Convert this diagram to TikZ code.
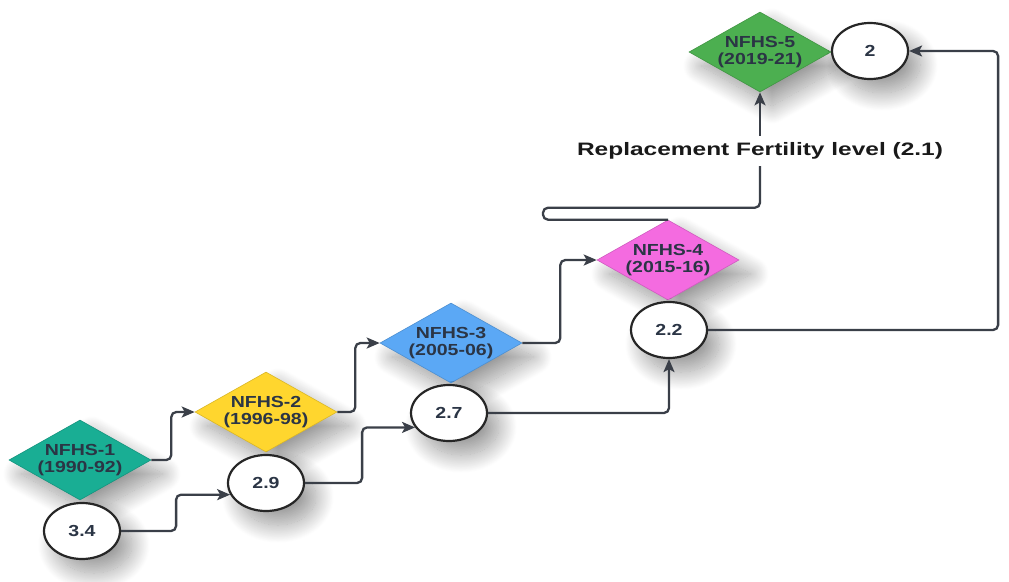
\documentclass[tikz,border=0pt]{standalone}
\usepackage{fontspec}
\setmainfont{Liberation Sans}
\usetikzlibrary{shapes.geometric,arrows.meta,shadows.blur}
\definecolor{cteal}{HTML}{19AE94}
\definecolor{cyellow}{HTML}{FFD62E}
\definecolor{cblue}{HTML}{5BA8F5}
\definecolor{cpink}{HTML}{F46BE0}
\definecolor{cgreen}{HTML}{4CAF50}
\definecolor{ctext}{HTML}{2B3545}
\definecolor{cline}{HTML}{3A3F48}
\newcommand{\wtext}[1]{\scalebox{1.22}[1]{#1}}
\begin{document}
\begin{tikzpicture}[x=1pt,y=-1pt,
  shade/.style={blur shadow={shadow xshift=12pt,shadow yshift=-14pt,shadow blur radius=18pt,shadow blur steps=30,shadow opacity=40}},
  dia/.style={diamond,shade,aspect=1.775,minimum width=142pt,minimum height=80pt,inner sep=-4pt,
    align=center,font=\bfseries\fontsize{16}{17}\selectfont,text=ctext,draw=#1!85!black,line width=0.6pt,fill=#1},
  val/.style={ellipse,shade,minimum width=76pt,minimum height=56pt,inner sep=0pt,
    draw=black!85,line width=2.2pt,fill=white,font=\bfseries\fontsize{16}{17}\selectfont,text=ctext},
  conn/.style={draw=cline,line width=2.3pt,rounded corners=5pt},
  arr/.style={conn,-{Stealth[length=13pt,width=11pt,inset=3pt]}},
  lbl/.style={font=\bfseries\fontsize{18}{20}\selectfont,text=black!90,inner sep=0pt,minimum height=30pt}
]
\useasboundingbox (0,0) rectangle (1009,581);
\node[dia=cteal]   (d1) at (80,460)  {\wtext{NFHS-1}\\\wtext{(1990-92)}};
\node[dia=cyellow] (d2) at (266,412) {\wtext{NFHS-2}\\\wtext{(1996-98)}};
\node[dia=cblue]   (d3) at (451,343) {\wtext{NFHS-3}\\\wtext{(2005-06)}};
\node[dia=cpink]   (d4) at (668,260) {\wtext{NFHS-4}\\\wtext{(2015-16)}};
\node[dia=cgreen]  (d5) at (760,52)  {\wtext{NFHS-5}\\\wtext{(2019-21)}};
\node[val] (e1) at (82,531)  {\wtext{3.4}};
\node[val] (e2) at (266,483) {\wtext{2.9}};
\node[val] (e3) at (449,413) {\wtext{2.7}};
\node[val] (e4) at (669,330) {\wtext{2.2}};
\node[val] (e5) at (870,51)  {\wtext{2}};
\node[lbl] (rl) at (760,151) {\scalebox{1.36}[1]{Replacement Fertility level (2.1)}};
\draw[arr] (d1.east) -- ++(20,0) |- (d2.west);
\draw[arr] (e1.east) -- ++(55,0) |- (e2.198);
\draw[arr] (d2.east) -- ++(18,0) |- (d3.west);
\draw[arr] (e2.east) -- ++(57,0) |- (e3.203);
\draw[arr] (d3.east) -- ++(38,0) |- (d4.west);
\draw[arr] (e3.east) -| (e4.south);
\draw[conn] (d4.north) -- ++(-125,0) -- ++(0,-12) -| (rl.south);
\draw[arr] (rl.north) -- (d5.south);
\draw[arr] (e4.east) -- ++(290,0) |- (e5.east);
\end{tikzpicture}
\end{document}
